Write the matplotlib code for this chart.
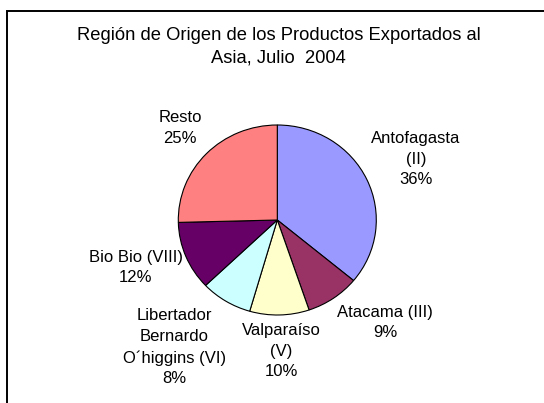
#
# region_pie.py - pie chart of export regions to Asia, July 2004
#
import matplotlib
matplotlib.use('Agg')
import matplotlib.pyplot as plt
from matplotlib.patches import Rectangle

# Regions and their share of exports (percent)
regions = ['Antofagasta\n(II)', 'Atacama (III)', 'Valparaíso\n(V)',
           'Libertador\nBernardo\nO´higgins (VI)', 'Bio Bio (VIII)', 'Resto']
shares = [36.0, 8.8, 9.7, 8.4, 11.7, 25.4]
colors = ['#9999FF', '#993366', '#FFFFCC', '#CCFFFF', '#660066', '#FF8080']

# Label centres in pie radius units
label_x = [1.40, 1.09, 0.04, -1.04, -1.43, -0.98]
label_y = [0.64, -1.08, -1.38, -1.34, -0.50, 0.97]

plt.rcParams['font.family'] = ['Liberation Sans', 'DejaVu Sans']

fig = plt.figure(figsize=(5.44, 4.03), dpi=100)
ax = fig.add_axes([0, 0, 1, 1])

ax.pie(shares, colors=colors, startangle=90, counterclock=False,
       wedgeprops={'edgecolor': 'black', 'linewidth': 0.8})

# pie centre at (277, 220) px; slightly wider than tall, like the original
ax.set_xlim(-277.3 / 99, (544 - 277.3) / 99)
ax.set_ylim(-(403 - 220) / 95, 220 / 95)
ax.set_aspect('auto')
ax.axis('off')

for name, share, x, y in zip(regions, shares, label_x, label_y):
    ax.text(x, y, '%s\n%d%%' % (name, round(share)), ha='center', va='center',
            fontsize=12, linespacing=1.48)

fig.text(278.5 / 544, 1 - 47 / 403,
         'Región de Origen de los Productos Exportados al\nAsia, Julio  2004',
         ha='center', va='center', fontsize=13.2, linespacing=1.46)

# Chart area border (runs off the right and bottom edges)
fig.patches.append(Rectangle((6.5 / 544, -0.05), 1.1, 1.05 - 10.5 / 403,
                             transform=fig.transFigure, fill=False,
                             edgecolor='black', linewidth=1.4))

fig.savefig('out.png', dpi=100)
